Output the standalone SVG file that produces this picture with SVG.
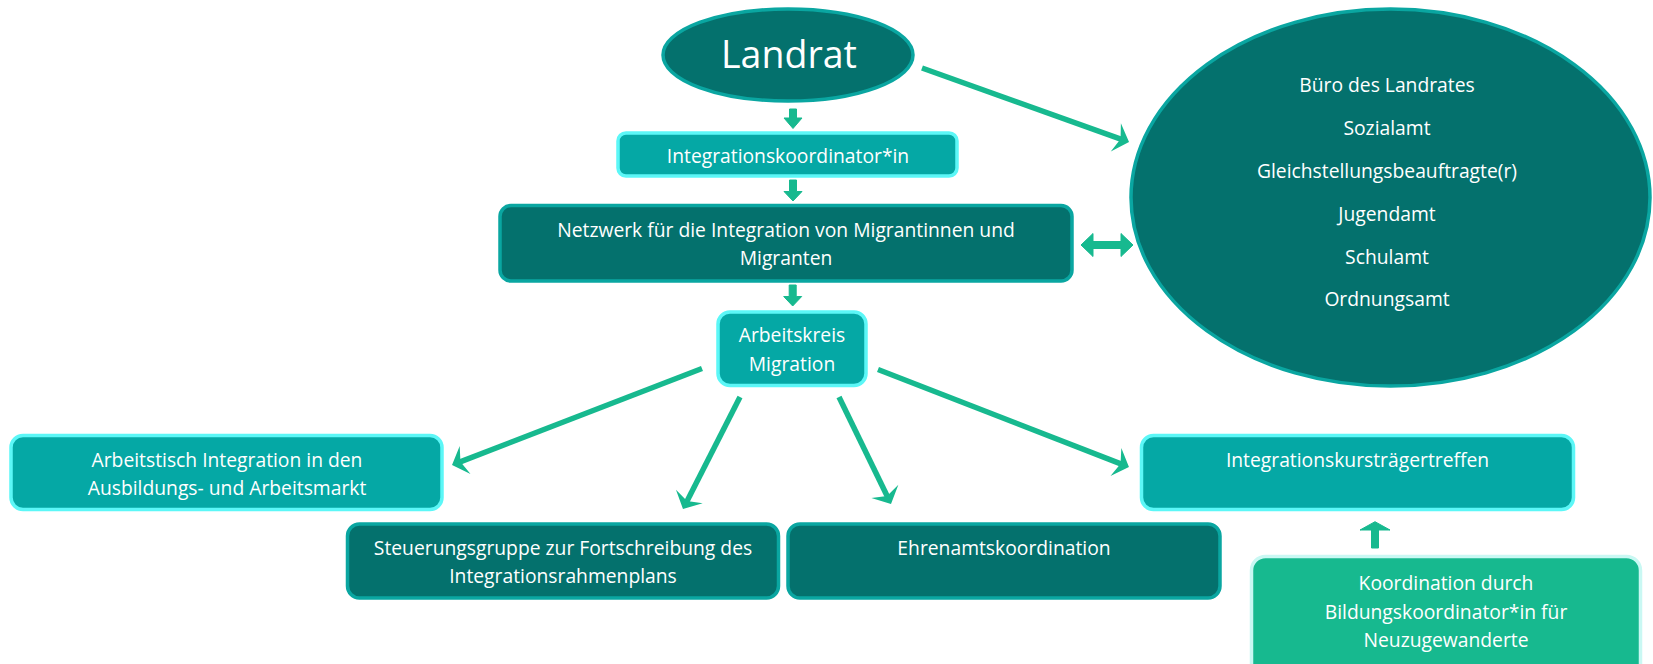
<svg xmlns="http://www.w3.org/2000/svg" width="1653" height="664" viewBox="0 0 1653 664">
<style>
.dark{fill:#04716d;stroke:#0aa6a1;stroke-width:3.5}
.mid{fill:#05a8a5;stroke:#5cf7f7;stroke-width:3.5}
.green{fill:#17b98f;stroke:#c9f8f3;stroke-width:3.5}
.t{font-family:"Open Sans","Liberation Sans",sans-serif;font-size:19.3px;fill:#ffffff;text-anchor:middle}
.big{font-size:37.5px}
.line{fill:none;stroke:#17b98f;stroke-width:5.5}
.block{fill:#17b98f;stroke:#17b98f;stroke-width:1;stroke-linejoin:round}
</style>
<defs>
<marker id="ah" markerUnits="userSpaceOnUse" markerWidth="20" markerHeight="32" viewBox="-10 -16 20 32" refX="0" refY="0" orient="auto" overflow="visible">
<path d="M8,0 L-6,-15 L-1,0 L-6,15 Z" fill="#17b98f"/>
</marker>
</defs>
<g id="connectors">
<path class="line" d="M922,68 L1121.5,139.3" marker-end="url(#ah)"/>
<path class="line" d="M702,368.5 L459.5,462.1" marker-end="url(#ah)"/>
<path class="line" d="M740,397 L686.6,501.9" marker-end="url(#ah)"/>
<path class="line" d="M839,397 L887.5,496.8" marker-end="url(#ah)"/>
<path class="line" d="M878,369.5 L1121.5,464.1" marker-end="url(#ah)"/>
<path class="block" d="M789.5,109 H796.5 V118 H802 L793,128.5 L784,118 H789.5 Z"/>
<path class="block" d="M789.5,180 H796.5 V191.5 H802 L793,201 L784,191.5 H789.5 Z"/>
<path class="block" d="M789.2,285 H796.2 V296.5 H801.7 L792.7,306 L783.7,296.5 H789.2 Z"/>
<path class="block" d="M1371.5,548 V530 H1360 L1375,521.7 L1390,530 H1378.5 V548 Z"/>
<path class="block" d="M1081,245 L1093,233.5 V241.5 H1121 V233.5 L1133,245 L1121,256.5 V248.5 H1093 V256.5 Z"/>
</g>
<g id="landrat">
<ellipse class="dark" cx="788" cy="55" rx="125" ry="46"/>
<text class="t big" x="789" y="68">Landrat</text>
</g>
<g id="aemter">
<ellipse class="dark" cx="1390.5" cy="197.6" rx="259.5" ry="188.5"/>
<text class="t" x="1387" y="92">Büro des Landrates</text>
<text class="t" x="1387" y="134.5">Sozialamt</text>
<text class="t" x="1387" y="177.5">Gleichstellungsbeauftragte(r)</text>
<text class="t" x="1387" y="220.5">Jugendamt</text>
<text class="t" x="1387" y="263.5">Schulamt</text>
<text class="t" x="1387" y="306">Ordnungsamt</text>
</g>
<g id="integrationskoordinator">
<rect class="mid" x="618" y="133" width="339" height="43" rx="8"/>
<text class="t" x="788" y="163">Integrationskoordinator*in</text>
</g>
<g id="netzwerk">
<rect class="dark" x="500" y="205.5" width="572" height="75.5" rx="11"/>
<text class="t" x="786" y="237">Netzwerk für die Integration von Migrantinnen und</text>
<text class="t" x="786" y="265">Migranten</text>
</g>
<g id="arbeitskreis">
<rect class="mid" x="718" y="312" width="148" height="73.5" rx="12"/>
<text class="t" x="792" y="342">Arbeitskreis</text>
<text class="t" x="792" y="370.5">Migration</text>
</g>
<g id="arbeitstisch">
<rect class="mid" x="11" y="435.5" width="431" height="74" rx="12"/>
<text class="t" x="227" y="466.5">Arbeitstisch Integration in den</text>
<text class="t" x="227" y="495">Ausbildungs- und Arbeitsmarkt</text>
</g>
<g id="steuerungsgruppe">
<rect class="dark" x="347.5" y="524" width="431" height="74" rx="12"/>
<text class="t" x="563" y="555">Steuerungsgruppe zur Fortschreibung des</text>
<text class="t" x="563" y="583">Integrationsrahmenplans</text>
</g>
<g id="ehrenamt">
<rect class="dark" x="788" y="524" width="432" height="74" rx="12"/>
<text class="t" x="1004" y="555">Ehrenamtskoordination</text>
</g>
<g id="integrationskurs">
<rect class="mid" x="1141.5" y="435.5" width="432" height="74" rx="12"/>
<text class="t" x="1357.5" y="466.5">Integrationskursträgertreffen</text>
</g>
<g id="koordination">
<rect class="green" x="1251.5" y="556.5" width="389" height="130" rx="14"/>
<text class="t" x="1446" y="590">Koordination durch</text>
<text class="t" x="1446" y="618.5">Bildungskoordinator*in für</text>
<text class="t" x="1446" y="647">Neuzugewanderte</text>
</g>
</svg>
